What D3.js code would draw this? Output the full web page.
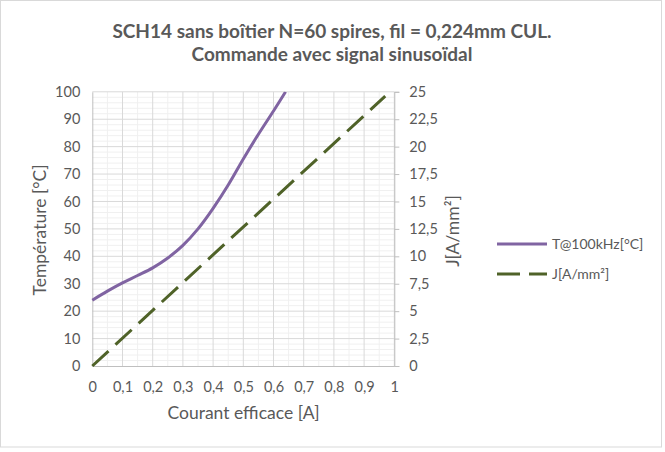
<!DOCTYPE html>
<html><head><meta charset="utf-8">
<script src="https://cdn.jsdelivr.net/npm/d3@7"></script>
<style>
body{margin:0;background:#fff}
text{font-family:Lato,"Open Sans",sans-serif;fill:#595959}
</style></head>
<body><svg id="c" width="665" height="452"></svg>
<script>
// ---- data ----
const titleLines = ["SCH14 sans boîtier N=60 spires, fil = 0,224mm CUL.", "Commande avec signal sinusoïdal"];
const current = [0, 0.05, 0.1, 0.15, 0.2, 0.25, 0.3, 0.35, 0.4, 0.45, 0.5, 0.55, 0.6, 0.64];
const temperature = [24, 27.3, 30.3, 33, 35.8, 39.4, 44, 50, 57.5, 66, 75.5, 84.5, 93, 100];
const currentJ = [0, 0.97];
const density = [0, 24.6];
const xTickValues = [0, 0.1, 0.2, 0.3, 0.4, 0.5, 0.6, 0.7, 0.8, 0.9, 1];
const yTickValues = [0, 10, 20, 30, 40, 50, 60, 70, 80, 90, 100];
const y2TickValues = [0, 2.5, 5, 7.5, 10, 12.5, 15, 17.5, 20, 22.5, 25];
const seriesNames = ["T@100kHz[°C]", "J[A/mm²]"];
const colors = ["#8064A2", "#4F6228"];

const svg = d3.select("#c");
const L = 92.3, R = 394.3, T = 91.8, B = 366;
const x = d3.scaleLinear().domain([0, 1]).range([L, R]);
const y = d3.scaleLinear().domain([0, 100]).range([B, T]);
const y2 = d3.scaleLinear().domain([0, 25]).range([B, T]);
const fmt = v => String(+v.toFixed(2)).replace(".", ",");

// border
svg.append("rect").attr("x", 0.5).attr("y", 0.5).attr("width", 661).attr("height", 446.5)
  .attr("fill", "#fff").attr("stroke", "#d9d9d9");

// minor grid
const g = svg.append("g");
g.selectAll(".mx").data(d3.range(0.05, 1, 0.1)).join("line")
  .attr("x1", d => x(d)).attr("x2", d => x(d)).attr("y1", T).attr("y2", B)
  .attr("stroke", "#f0f0f0").attr("stroke-width", 1);
g.selectAll(".my").data(d3.range(2, 100, 2).filter(v => v % 10 !== 0)).join("line")
  .attr("x1", L).attr("x2", R).attr("y1", d => y(d)).attr("y2", d => y(d))
  .attr("stroke", "#f0f0f0").attr("stroke-width", 1);
// major grid
g.selectAll(".Mx").data(xTickValues.slice(1)).join("line")
  .attr("x1", d => x(d)).attr("x2", d => x(d)).attr("y1", T).attr("y2", B)
  .attr("stroke", "#d9d9d9").attr("stroke-width", 1);
g.selectAll(".My").data(yTickValues.slice(1)).join("line")
  .attr("x1", L).attr("x2", R).attr("y1", d => y(d)).attr("y2", d => y(d))
  .attr("stroke", "#d9d9d9").attr("stroke-width", 1);

// axes
const xAxis = svg.append("g").attr("transform", `translate(0,${B})`)
  .call(d3.axisBottom(x).tickValues(xTickValues).tickFormat(fmt).tickSize(0).tickPadding(16));
const yAxis = svg.append("g").attr("transform", `translate(${L},0)`)
  .call(d3.axisLeft(y).tickValues(yTickValues).tickFormat(fmt).tickSize(0).tickPadding(12));
const y2Axis = svg.append("g").attr("transform", `translate(${R},0)`)
  .call(d3.axisRight(y2).tickValues(y2TickValues).tickFormat(fmt).tickSize(5).tickPadding(10));
[xAxis, yAxis, y2Axis].forEach(a => {
  a.select(".domain").attr("stroke", "#bfbfbf");
  a.selectAll(".tick line").attr("stroke", "#bfbfbf");
  a.selectAll("text").attr("font-size", 14.5).attr("fill", "#595959").attr("font-family", "Lato");
});

// clip
svg.append("clipPath").attr("id", "clip").append("rect")
  .attr("x", L - 3).attr("y", T).attr("width", R - L + 6).attr("height", B - T + 3);

// series
const tData = current.map((c, i) => [c, temperature[i]]);
const jData = currentJ.map((c, i) => [c, density[i]]);
svg.append("path").datum(tData).attr("clip-path", "url(#clip)")
  .attr("d", d3.line().x(d => x(d[0])).y(d => y(d[1])).curve(d3.curveCatmullRom))
  .attr("fill", "none").attr("stroke", colors[0]).attr("stroke-width", 3);
svg.append("path").datum(jData).attr("clip-path", "url(#clip)")
  .attr("d", d3.line().x(d => x(d[0])).y(d => y2(d[1])))
  .attr("fill", "none").attr("stroke", colors[1]).attr("stroke-width", 3)
  .attr("stroke-dasharray", "22,9.5");

// titles
const title = svg.append("text").attr("text-anchor", "middle").attr("font-weight", "bold")
  .attr("font-size", 19);
titleLines.forEach((t, i) => title.append("tspan").attr("x", 332).attr("y", 38 + i * 23).text(t));

svg.append("text").attr("x", 243.5).attr("y", 419).attr("text-anchor", "middle")
  .attr("font-size", 17.5).text("Courant efficace [A]");
svg.append("text").attr("transform", "translate(46,230) rotate(-90)").attr("text-anchor", "middle")
  .attr("font-size", 17.5).text("Température [°C]");
svg.append("text").attr("transform", "translate(459,231) rotate(-90)").attr("text-anchor", "middle")
  .attr("font-size", 17.5).text("J[A/mm²]");

// legend
const leg = svg.append("g");
seriesNames.forEach((n, i) => {
  const yy = 244 + i * 30;
  leg.append("line").attr("x1", 497).attr("x2", 547).attr("y1", yy).attr("y2", yy)
    .attr("stroke", colors[i]).attr("stroke-width", 3)
    .attr("stroke-dasharray", i === 1 ? "23,9" : null);
  leg.append("text").attr("x", 552).attr("y", yy + 5).attr("font-size", 14).text(n);
});
</script>
</body></html>
